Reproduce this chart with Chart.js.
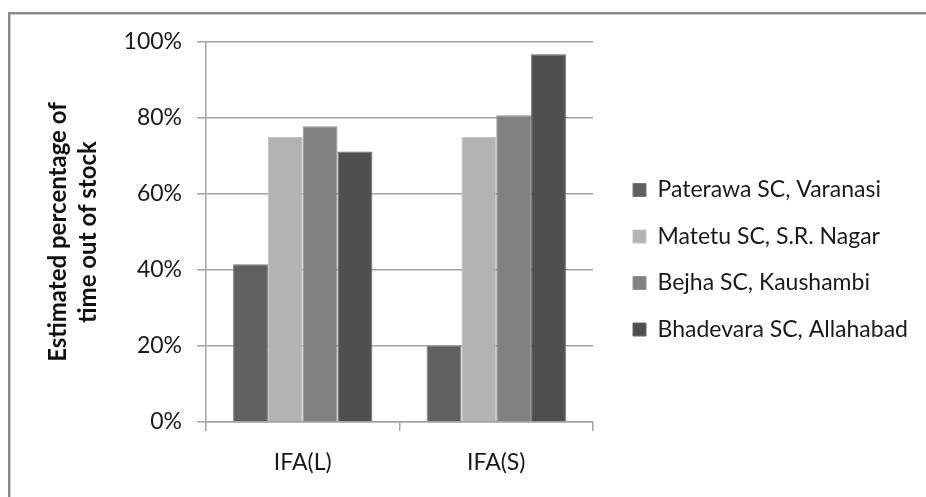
<!DOCTYPE html>
<html>
<head>
<meta charset="utf-8">
<title>Estimated percentage of time out of stock</title>
<script src="https://cdn.jsdelivr.net/npm/chart.js@4"></script>
<style>
  html, body { margin: 0; padding: 0; background: #ffffff; overflow: hidden; }
  #wrap { position: relative; width: 926px; height: 497px; overflow: hidden; }
  #frame {
    position: absolute; left: 8px; top: 12px; width: 960px; height: 520px;
    border-top: 2px solid #8a8a8a; border-left: 2px solid #8a8a8a;
    box-shadow: inset 1px 1px 0 #c8c8c8;
  }
  canvas { position: absolute; left: 0; top: 0; }
</style>
</head>
<body>
<div id="wrap">
  <div id="frame"></div>
  <canvas id="chart" width="926" height="497"></canvas>
</div>
<script>
// Supplement types and facilities
const categories = ['IFA(L)', 'IFA(S)'];

const seriesNames = [
  'Paterawa SC, Varanasi',
  'Matetu SC, S.R. Nagar',
  'Bejha SC, Kaushambi',
  'Bhadevara SC, Allahabad'
];

// Share of time out of stock (fraction of 1)
const paterawa  = [0.415, 0.200];
const matetu    = [0.750, 0.750];
const bejha     = [0.778, 0.807];
const bhadevara = [0.712, 0.968];

const yTicks = [0, 0.2, 0.4, 0.6, 0.8, 1.0];

const fills   = ['#606060', '#b3b3b3', '#818181', '#4f4f4f'];
const borders = ['#777777', '#c2c2c2', '#929292', '#666666'];

const axisGrey = '#a3a3a3';
const textColor = '#1a1a1a';

Chart.defaults.font.family = 'Lato, "Open Sans", sans-serif';
Chart.defaults.color = textColor;

// Keeps the legend column at a fixed width and position beside the plot.
const legendPlacement = {
  id: 'legendPlacement',
  beforeLayout(chart) {
    const lg = chart.legend;
    if (lg && !lg._fixedFit) {
      const fit = lg.fit;
      lg.fit = function () { fit.call(this); this.width = 926 - 593; };
      lg._fixedFit = true;
    }
  },
  afterLayout(chart) {
    const lg = chart.legend;
    if (!lg) return;
    const dx = 633 - (lg.left + lg.options.labels.padding);
    lg.left += dx; lg.right += dx;
    const dy = 178.5 - (lg.top + lg.options.labels.padding);
    lg.top += dy; lg.bottom += dy;
  }
};

const seriesValues = [paterawa, matetu, bejha, bhadevara];

new Chart(document.getElementById('chart'), {
  type: 'bar',
  data: {
    labels: categories,
    datasets: seriesValues.map((vals, i) => ({
      label: seriesNames[i],
      data: vals,
      backgroundColor: fills[i],
      borderColor: borders[i],
      borderWidth: 1,
      categoryPercentage: 0.72,
      barPercentage: 1.0
    }))
  },
  options: {
    responsive: false,
    animation: false,
    devicePixelRatio: 1,
    layout: { padding: { top: 42, left: 0, right: 0, bottom: 0 } },
    plugins: {
      tooltip: { enabled: false },
      legend: {
        position: 'right',
        align: 'start',
        labels: {
          boxWidth: 13,
          boxHeight: 13,
          padding: 23.5,
          color: textColor,
          font: { size: 23 }
        }
      }
    },
    scales: {
      x: {
        afterFit(scale) { scale.height = 497 - 422; },
        grid: {
          offset: true,
          drawOnChartArea: false,
          drawTicks: true,
          tickLength: 9,
          color: axisGrey,
          lineWidth: 1.5
        },
        border: { display: true, color: axisGrey, width: 1.5 },
        ticks: { padding: 18, color: textColor, font: { size: 23 } }
      },
      y: {
        min: 0,
        max: 1,
        afterFit(scale) { scale.width = 206; },
        afterBuildTicks(scale) { scale.ticks = yTicks.map(v => ({ value: v })); },
        grid: {
          drawTicks: true,
          tickLength: 9,
          color: axisGrey,
          lineWidth: 1.5
        },
        border: { display: true, color: axisGrey, width: 1.5 },
        ticks: {
          padding: 15,
          color: textColor,
          font: { size: 23 },
          callback: v => Math.round(v * 100) + '%'
        },
        title: {
          display: true,
          text: ['Estimated percentage of', 'time out of stock'],
          color: '#111111',
          font: { size: 24, weight: 'bold', lineHeight: 1.27 },
          padding: { top: 43, bottom: 0 }
        }
      }
    }
  },
  plugins: [legendPlacement]
});
</script>
</body>
</html>
